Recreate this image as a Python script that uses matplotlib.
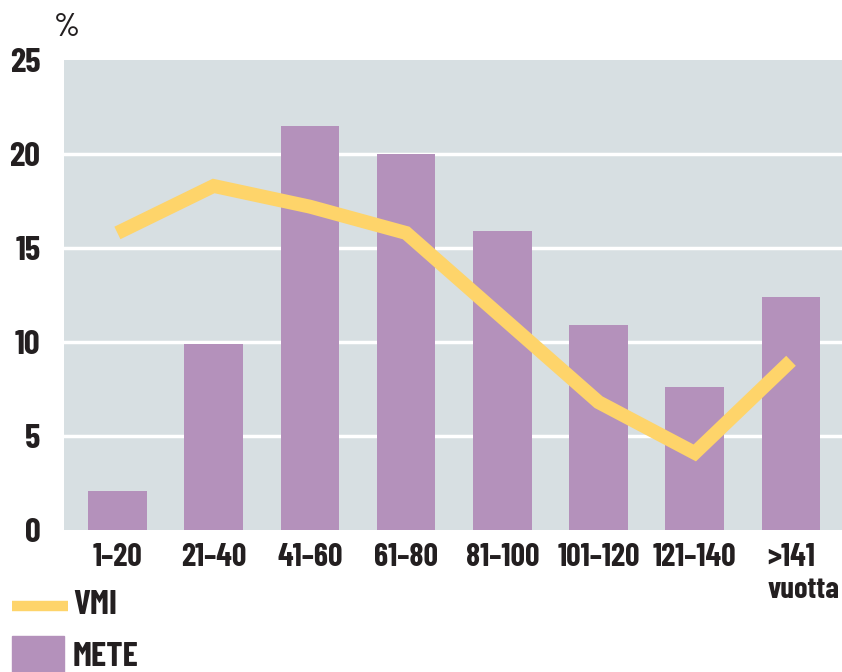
import matplotlib
matplotlib.use("Agg")
import matplotlib.pyplot as plt
from matplotlib.lines import Line2D
from matplotlib.patches import Rectangle

# age classes (years) and shares in percent
classes = ["1–20", "21–40", "41–60", "61–80", "81–100", "101–120", "121–140", ">141"]
mete = [2.1, 9.9, 21.5, 20.0, 15.9, 10.9, 7.6, 12.4]
vmi = [15.8, 18.3, 17.2, 15.8, 11.3, 6.8, 4.1, 9.0]
yticks = [0, 5, 10, 15, 20, 25]

BG = "#d7dfe2"
PURPLE = "#b491bb"
YELLOW = "#fed46a"
INK = "#231f20"

plt.rcParams["font.family"] = ["Barlow Condensed", "DejaVu Sans"]
plt.rcParams["font.weight"] = 700

W, H = 842, 672
fig = plt.figure(figsize=(W / 100, H / 100), dpi=100)
ax = fig.add_axes([64 / W, (H - 530) / H, 778 / W, 470 / H])
ax.set_facecolor(BG)

x = range(len(classes))
ax.bar(x, mete, width=0.61, color=PURPLE, zorder=2)
ax.plot(x, vmi, color=YELLOW, lw=10, solid_capstyle="butt",
        solid_joinstyle="miter", zorder=3)

ax.set_xlim(-0.555, 7.53)
ax.set_ylim(0, 25)
ax.set_yticks(yticks)
ax.set_xticks(list(x))
ax.set_xticklabels(classes)
for y in yticks[1:-1]:
    ax.axhline(y, color="white", lw=2.5, zorder=1)

for s in ax.spines.values():
    s.set_visible(False)
ax.tick_params(length=0, colors=INK)
ax.tick_params(axis="y", labelsize=25, pad=17)
ax.tick_params(axis="x", labelsize=23, pad=9)

fig.text(54 / W, 1 - 27 / H, "%", fontsize=24, color=INK, ha="left",
         va="center", weight=500)
fig.text(840 / W, 1 - 591 / H, "vuotta", fontsize=22, color=INK,
         ha="right", va="center")

# legend
fig.add_artist(Line2D([12 / W, 68 / W], [1 - 606 / H, 1 - 606 / H],
                      color=YELLOW, lw=7.5, solid_capstyle="butt"))
fig.text(73 / W, 1 - 605 / H, "VMI", fontsize=25, color=INK, va="center")
fig.add_artist(Rectangle((12 / W, 0), 52 / W, 36 / H, color=PURPLE,
                         transform=fig.transFigure))
fig.text(73 / W, 1 - 657 / H, "METE", fontsize=25, color=INK, va="center")

fig.savefig("out.png", dpi=100, facecolor="white")
